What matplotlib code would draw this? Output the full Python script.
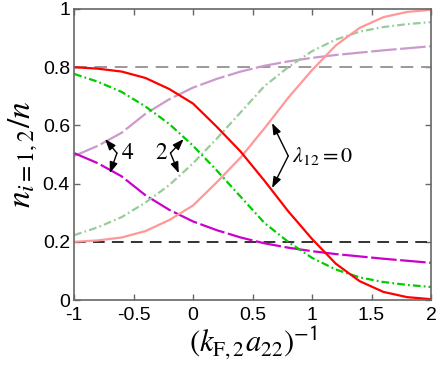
import matplotlib
matplotlib.use('Agg')
import matplotlib.pyplot as plt

plt.rcParams['mathtext.fontset'] = 'stix'
plt.rcParams['font.family'] = ['Liberation Sans', 'DejaVu Sans']

# x grid and fractions n_1/n, n_2/n
x = [-1.0, -0.8, -0.6, -0.4, -0.2, 0.0, 0.2, 0.4, 0.6, 0.8, 1.0, 1.2, 1.4, 1.6, 1.8, 2.0]

n1_lam0 = [0.800, 0.795, 0.785, 0.763, 0.725, 0.675, 0.595, 0.510, 0.410, 0.305,
           0.210, 0.125, 0.065, 0.028, 0.010, 0.003]
n2_lam0 = [0.200, 0.205, 0.215, 0.237, 0.275, 0.325, 0.405, 0.490, 0.590, 0.695,
           0.790, 0.875, 0.935, 0.972, 0.990, 0.997]

n1_lam2 = [0.777, 0.750, 0.715, 0.665, 0.605, 0.530, 0.445, 0.355, 0.265, 0.200,
           0.145, 0.105, 0.078, 0.062, 0.052, 0.045]
n2_lam2 = [0.223, 0.250, 0.285, 0.335, 0.395, 0.470, 0.555, 0.645, 0.735, 0.800,
           0.855, 0.895, 0.922, 0.938, 0.948, 0.955]

n1_lam4 = [0.505, 0.470, 0.425, 0.360, 0.310, 0.270, 0.240, 0.215, 0.195, 0.180,
           0.168, 0.158, 0.150, 0.142, 0.135, 0.128]
n2_lam4 = [0.495, 0.530, 0.575, 0.640, 0.690, 0.730, 0.760, 0.785, 0.805, 0.820,
           0.832, 0.842, 0.850, 0.858, 0.865, 0.872]

ref_levels = [0.8, 0.2]

fig = plt.figure(figsize=(4.36, 3.70), dpi=100)
ax = fig.add_axes([0.170, 0.189, 0.8185, 0.7867])

ax.axhline(ref_levels[0], color='#999999', lw=1.4, dashes=(6.5, 4))
ax.axhline(ref_levels[1], color='#222222', lw=1.3, dashes=(6.5, 4))

lw = 1.6
ax.plot(x, n2_lam4, color='#cc99cc', lw=lw, dashes=(11.5, 1.6))
ax.plot(x, n1_lam4, color='#cc00cc', lw=lw, dashes=(11.5, 1.6))
ax.plot(x, n2_lam2, color='#99cc99', lw=lw, dashes=(3.5, 1.4, 0.8, 1.4))
ax.plot(x, n1_lam2, color='#00cc00', lw=lw, dashes=(3.5, 1.4, 0.8, 1.4))
ax.plot(x, n2_lam0, color='#ff9999', lw=lw)
ax.plot(x, n1_lam0, color='#ff0000', lw=lw)

# arrow annotations
arr = dict(arrowstyle='-|>,head_length=0.55,head_width=0.2', color='black', lw=1.0,
           mutation_scale=12, shrinkA=0, shrinkB=0)
for tip in [(-0.74, 0.553), (-0.70, 0.436)]:
    ax.annotate('', xy=tip, xytext=(-0.64, 0.505), arrowprops=arr)
ax.text(-0.60, 0.505, '4', fontsize=17, family='STIXGeneral', va='center', ha='left')

for tip in [(-0.08, 0.553), (-0.12, 0.436)]:
    ax.annotate('', xy=tip, xytext=(-0.19, 0.505), arrowprops=arr)
ax.text(-0.22, 0.505, '2', fontsize=17, family='STIXGeneral', va='center', ha='right')

for tip in [(0.664, 0.608), (0.664, 0.385)]:
    ax.annotate('', xy=tip, xytext=(0.80, 0.495), arrowprops=arr)
ax.text(0.83, 0.495, r'$\lambda_{12} = 0$', fontsize=16, va='center', ha='left')

ax.set_xlim(-1, 2)
ax.set_ylim(0, 1)
ax.set_xticks([-1, -0.5, 0, 0.5, 1, 1.5, 2])
ax.set_xticklabels(['-1', '-0.5', '0', '0.5', '1', '1.5', '2'])
ax.set_yticks([0, 0.2, 0.4, 0.6, 0.8, 1])
ax.set_yticklabels(['0', '0.2', '0.4', '0.6', '0.8', '1'])
ax.tick_params(direction='in', length=4, width=1, color='#666666',
               top=True, right=True, labelsize=14)
ax.tick_params(axis='x', pad=5)
ax.tick_params(axis='y', pad=3)
for sp in ax.spines.values():
    sp.set_color('#666666')
    sp.set_linewidth(1.2)

ax.set_xlabel(r'$(k_{\mathrm{F},2}a_{22})^{\mathsf{-1}}$', fontsize=22, labelpad=0)
ax.set_ylabel(r'$n_{i=1,2}/n$', fontsize=24, labelpad=2)

fig.savefig('out.png', dpi=100)
